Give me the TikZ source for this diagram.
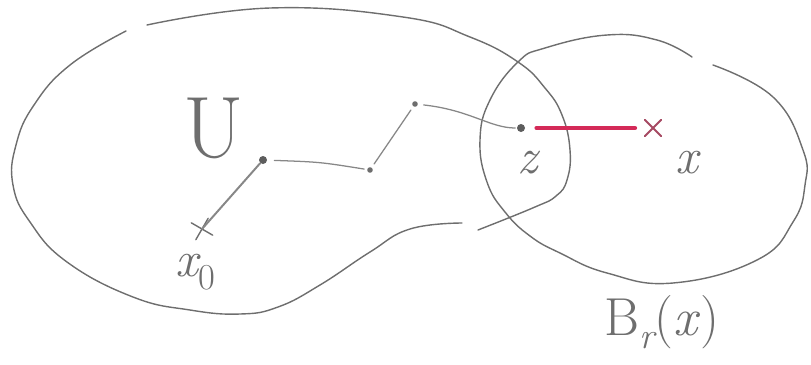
\documentclass[tikz,border=0pt]{standalone}
\usepackage{fontspec}
\usetikzlibrary{shapes.misc}
\definecolor{pencil}{RGB}{110,110,110}
\definecolor{pale}{RGB}{135,135,135}
\definecolor{crim}{RGB}{212,42,88}
\newcommand{\lowsub}[1]{\raisebox{-0.25em}{\fontsize{26}{28}\selectfont #1}}
\begin{document}
\begin{tikzpicture}[x=0.025cm, y=-0.025cm, line cap=round, line join=round,
          bd/.style={draw=pencil, line width=1pt},
          ln/.style={draw=pale, line width=0.9pt},
          dt/.style={circle, fill=pencil!85!black, inner sep=0pt, minimum size=0.2cm},
          sd/.style={circle, fill=pencil, inner sep=0pt, minimum size=0.14cm},
          cr/.style={cross out, draw=pencil, line width=1pt, inner sep=0pt, minimum size=0.4cm},
          lb/.style={text=pencil, inner sep=0pt, font=\fontsize{36}{38}\selectfont}]
        \useasboundingbox (0,0) rectangle (811,364);
        % the set U, drawn in two strokes
        \draw[bd] plot[smooth, tension=0.75] coordinates {(147,25) (270,8) (403,17) (470,37) (518,62)
          (545,88) (562,115) (570,150) (567,180) (556,196) (535,207) (478,230)};
        \draw[bd] plot[smooth, tension=0.75] coordinates {(462,223) (410,229) (370,252) (320,285)
          (278,307) (240,314) (190,310) (133,297) (67,262) (30,222) (13,185) (16,145) (34,105) (70,65) (126,31)};
        % the ball round x, open at the top
        \draw[bd] plot[smooth, tension=0.75] coordinates {(713,65) (773,97) (803,150) (805,185)
          (793,222) (757,260) (673,283) (607,273) (560,253) (530,236) (505,212) (487,182)
          (480,140) (490,100) (518,62) (545,48) (607,35) (657,40) (692,57)};
        % points
        \node[cr, rotate=15] (x0) at (202,229) {};
        \node[dt] (p1) at (263,160) {};
        \node[sd] (p2) at (370,170) {};
        \node[sd] (p3) at (415,104) {};
        \node[dt] (z) at (521,128) {};
        \node[cr, draw=crim!55!pencil, line width=1.3pt, minimum size=0.36cm] (x) at (653,128) {};
        % the path from x0 to z
        \draw[ln, line width=1.4pt] (x0.center) -- (p1);
        \draw[ln, shorten <=5pt, shorten >=2pt] (p1) .. controls (320,162) .. (p2);
        \draw[ln, shorten <=3pt, shorten >=3pt] (p2) -- (p3);
        \draw[ln, shorten <=4pt, shorten >=1pt] (p3) .. controls (470,110) and (490,128) .. (z);
        \draw[crim, line width=3pt, shorten <=8pt, shorten >=7pt] (z) -- (x);
        % labels
        \node[lb, font=\fontsize{62}{64}\selectfont] (lU) at (214,128) {U};
        \node[lb] (lz) at (528,163) {\itshape z};
        \node[lb] (lx) at (687,163) {\itshape x};
        \node[lb] (lx0) at (195,272) {\itshape x\lowsub{\upshape 0}};
        \node[lb, font=\fontsize{38}{40}\selectfont] (lB) at (662,322) {B\lowsub{\itshape r}(\textit{x})};
\end{tikzpicture}
\end{document}
